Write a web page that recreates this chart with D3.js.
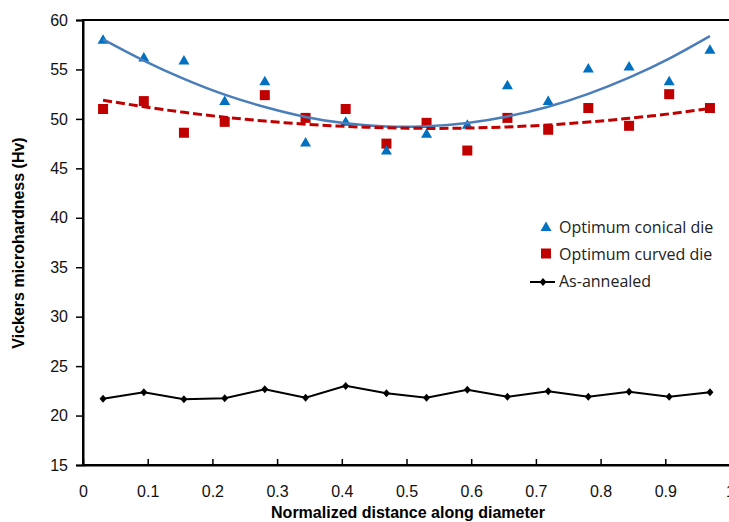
<!DOCTYPE html>
<html>
<head>
<meta charset="utf-8">
<script src="https://cdn.jsdelivr.net/npm/d3@7/dist/d3.min.js"></script>
<style>
  body { margin: 0; background: #fff; }
  svg { display: block; font-family: "Liberation Sans", Arial, sans-serif; }
</style>
</head>
<body>
<div id="chart"></div>
<script>
// data ----------------------------------------------------------------------
const positions = [0.031, 0.094, 0.156, 0.219, 0.281, 0.344, 0.406, 0.469,
                   0.531, 0.594, 0.656, 0.719, 0.781, 0.844, 0.906, 0.969];
const conical = [58.0, 56.2, 55.9, 51.8, 53.8, 47.6, 49.7, 46.8,
                 48.5, 49.4, 53.4, 51.8, 55.1, 55.3, 53.8, 57.0];
const curved = [51.0, 51.8, 48.6, 49.7, 52.4, 50.1, 51.0, 47.5,
                49.6, 46.8, 50.1, 48.9, 51.1, 49.3, 52.5, 51.1];
const annealed = [21.7, 22.35, 21.65, 21.75, 22.65, 21.8, 23.0, 22.25,
                  21.8, 22.6, 21.9, 22.45, 21.9, 22.4, 21.9, 22.35];
// trendlines as drawn in the picture (read at the same positions)
const conicalTrend = [58.05, 55.9, 54.05, 52.45, 51.2, 50.2, 49.55, 49.23,
                      49.25, 49.59, 50.25, 51.23, 52.53, 54.17, 56.09, 58.37];
const curvedTrend = [51.89, 51.23, 50.66, 50.17, 49.78, 49.46, 49.24, 49.10,
                     49.04, 49.07, 49.19, 49.39, 49.68, 50.06, 50.51, 51.06];
const xTicks = [0, 0.1, 0.2, 0.3, 0.4, 0.5, 0.6, 0.7, 0.8, 0.9, 1];
const yTicks = [15, 20, 25, 30, 35, 40, 45, 50, 55, 60];
const legendLabels = ['Optimum conical die', 'Optimum curved die', 'As-annealed'];

// layout ---------------------------------------------------------------------
const width = 729;
const height = 522;
const plot = { left: 83, right: 730, top: 20, bottom: 465 };

const svg = d3.select('#chart').append('svg')
  .attr('width', width)
  .attr('height', height);

const x = d3.scaleLinear().domain([0, 1]).range([plot.left, plot.right]);
const y = d3.scaleLinear().domain([15, 60]).range([plot.bottom, plot.top]);

const pairs = vals => positions.map((p, i) => [p, vals[i]]);

// frame ------------------------------------------------------------------------
svg.append('rect')
  .attr('x', plot.left)
  .attr('y', plot.top)
  .attr('width', plot.right - plot.left)
  .attr('height', plot.bottom - plot.top)
  .attr('fill', 'none')
  .attr('stroke', '#000')
  .attr('stroke-width', 2);

// axes -------------------------------------------------------------------------
const yAxis = svg.append('g')
  .attr('transform', 'translate(' + plot.left + ',0)')
  .call(d3.axisLeft(y).tickValues(yTicks).tickSize(7).tickPadding(8).tickFormat(d3.format('d')));
yAxis.select('.domain').attr('stroke-width', 2);
yAxis.selectAll('.tick line').attr('stroke-width', 1.5);
yAxis.selectAll('text').attr('font-size', 16).attr('fill', '#111');

const xAxis = svg.append('g')
  .attr('transform', 'translate(0,' + plot.bottom + ')')
  .call(d3.axisBottom(x).tickValues(xTicks).tickSizeInner(-6).tickSizeOuter(0)
    .tickPadding(21).tickFormat(d => d === 0 || d === 1 ? String(d) : d3.format('.1f')(d)));
xAxis.select('.domain').attr('stroke-width', 2);
xAxis.selectAll('.tick line').attr('stroke-width', 1.5);
xAxis.selectAll('text').attr('font-size', 16).attr('fill', '#111');

// axis titles --------------------------------------------------------------------
svg.append('text')
  .attr('x', 408)
  .attr('y', 518)
  .attr('text-anchor', 'middle')
  .attr('font-size', 16)
  .attr('font-weight', 'bold')
  .text('Normalized distance along diameter');

svg.append('text')
  .attr('transform', 'translate(24,243) rotate(-90)')
  .attr('text-anchor', 'middle')
  .attr('font-size', 16)
  .attr('font-weight', 'bold')
  .text('Vickers microhardness (Hv)');

const line = d3.line().x(d => x(d[0])).y(d => y(d[1]));
const smooth = d3.line().x(d => x(d[0])).y(d => y(d[1])).curve(d3.curveNatural);

// as-annealed ----------------------------------------------------------------------
svg.append('path')
  .datum(pairs(annealed))
  .attr('d', line)
  .attr('fill', 'none')
  .attr('stroke', '#000')
  .attr('stroke-width', 2);

svg.selectAll('.diamond')
  .data(pairs(annealed))
  .enter()
  .append('path')
  .attr('class', 'diamond')
  .attr('transform', d => 'translate(' + x(d[0]) + ',' + y(d[1]) + ')')
  .attr('d', 'M0,-4L3.5,0L0,4L-3.5,0Z')
  .attr('fill', '#000');

// markers ------------------------------------------------------------------------------
const triangle = 'M0,-5.5L5.5,4L-5.5,4Z';

svg.selectAll('.sq')
  .data(pairs(curved))
  .enter()
  .append('rect')
  .attr('class', 'sq')
  .attr('x', d => x(d[0]) - 5)
  .attr('y', d => y(d[1]) - 5)
  .attr('width', 10)
  .attr('height', 10)
  .attr('fill', '#C00000');

svg.selectAll('.tri')
  .data(pairs(conical))
  .enter()
  .append('path')
  .attr('class', 'tri')
  .attr('transform', d => 'translate(' + x(d[0]) + ',' + y(d[1]) + ')')
  .attr('d', triangle)
  .attr('fill', '#0070C0');

// trendlines ---------------------------------------------------------------------
svg.append('path')
  .datum(pairs(conicalTrend))
  .attr('d', smooth)
  .attr('fill', 'none')
  .attr('stroke', '#4A7EBB')
  .attr('stroke-width', 2.5);

svg.append('path')
  .datum(pairs(curvedTrend))
  .attr('d', smooth)
  .attr('fill', 'none')
  .attr('stroke', '#C00000')
  .attr('stroke-width', 3)
  .attr('stroke-dasharray', '9,4');

// legend ------------------------------------------------------------------------------------
const legend = svg.append('g')
  .attr('transform', 'translate(546,227)')
  .attr('font-family', '"Open Sans", "Noto Sans", sans-serif')
  .attr('font-size', 16);

legend.append('path')
  .attr('d', triangle)
  .attr('fill', '#0070C0');
legend.append('rect')
  .attr('x', -5).attr('y', 21.5)
  .attr('width', 10).attr('height', 10)
  .attr('fill', '#C00000');
legend.append('line')
  .attr('x1', -16).attr('x2', 9)
  .attr('y1', 55).attr('y2', 55)
  .attr('stroke', '#000').attr('stroke-width', 2);
legend.append('path')
  .attr('transform', 'translate(-3,55)')
  .attr('d', 'M0,-4L3.5,0L0,4L-3.5,0Z')
  .attr('fill', '#000');

legend.selectAll('.legend-text')
  .data(legendLabels)
  .enter()
  .append('text')
  .attr('class', 'legend-text')
  .attr('x', 13)
  .attr('y', (d, i) => i * 27 + 6)
  .attr('fill', '#222')
  .text(d => d);
</script>
</body>
</html>
